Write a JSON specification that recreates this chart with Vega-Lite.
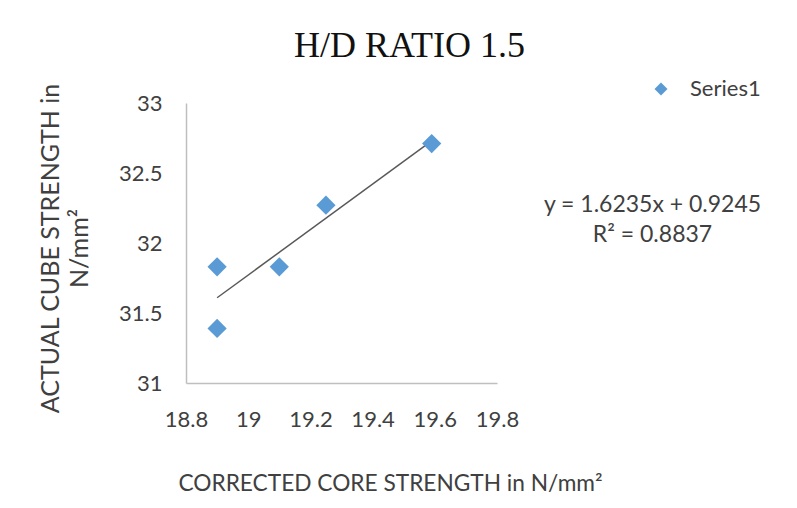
{
  "$schema": "https://vega.github.io/schema/vega-lite/v6.json",
  "width": 311,
  "height": 280,
  "autosize": {"type": "none"},
  "padding": {"left": 186, "top": 103, "right": 300, "bottom": 125},
  "background": "white",
  "config": {
    "view": {"stroke": null},
    "font": "Lato",
    "axis": {
      "grid": false,
      "ticks": false,
      "domainColor": "#bfbfbf",
      "domainWidth": 1.5,
      "labelFont": "Lato",
      "labelFontSize": 22,
      "labelColor": "#404040",
      "labelOverlap": false,
      "labelFlush": false,
      "titleFont": "Lato",
      "titleFontWeight": "normal",
      "titleColor": "#404040"
    }
  },
  "title": {
    "text": "H/D RATIO 1.5",
    "font": "Liberation Serif",
    "fontSize": 36,
    "fontWeight": "normal",
    "color": "#111111",
    "anchor": "middle",
    "frame": "group",
    "dx": 68,
    "dy": 51,
    "baseline": "alphabetic",
    "offset": 36
  },
  "datasets": {
    "points": [
      {"core": 18.9, "cube": 31.83, "series": "Series1"},
      {"core": 18.9, "cube": 31.39, "series": "Series1"},
      {"core": 19.1, "cube": 31.83, "series": "Series1"},
      {"core": 19.25, "cube": 32.27, "series": "Series1"},
      {"core": 19.59, "cube": 32.71, "series": "Series1"}
    ],
    "trend": [
      {"core": 18.9, "cube": 31.609},
      {"core": 19.59, "cube": 32.729}
    ],
    "equation": [
      {"label": "y = 1.6235x + 0.9245\nR² = 0.8837"}
    ]
  },
  "layer": [
    {
      "data": {"name": "trend"},
      "mark": {"type": "line", "color": "#595959", "strokeWidth": 1.5},
      "encoding": {
        "x": {"field": "core", "type": "quantitative"},
        "y": {"field": "cube", "type": "quantitative"}
      }
    },
    {
      "data": {"name": "points"},
      "mark": {"type": "point", "shape": "diamond", "filled": true, "opacity": 1, "size": 370},
      "encoding": {
        "x": {
          "field": "core",
          "type": "quantitative",
          "scale": {"domain": [18.8, 19.8], "zero": false, "nice": false},
          "axis": {
            "values": [18.8, 19, 19.2, 19.4, 19.6, 19.8],
            "format": "~g",
            "labelPadding": 26,
            "title": "CORRECTED CORE STRENGTH in N/mm²",
            "titleFontSize": 22.7,
            "titleX": 204,
            "titleY": 107,
            "titleAlign": "center",
            "titleBaseline": "alphabetic"
          }
        },
        "y": {
          "field": "cube",
          "type": "quantitative",
          "scale": {"domain": [31, 33], "zero": false, "nice": false},
          "axis": {
            "values": [31, 31.5, 32, 32.5, 33],
            "format": "~g",
            "labelPadding": 24,
            "title": ["ACTUAL CUBE STRENGTH in", "N/mm²"],
            "titleFontSize": 25,
            "titleX": -128,
            "titleY": 145,
            "titleAlign": "center",
            "titleBaseline": "alphabetic",
            "titleLineHeight": 29
          }
        },
        "color": {
          "field": "series",
          "type": "nominal",
          "scale": {"range": ["#5B9BD5"]},
          "legend": {
            "title": null,
            "orient": "none",
            "legendX": 464,
            "legendY": -25,
            "symbolType": "diamond",
            "symbolSize": 170,
            "labelFontSize": 22,
            "labelFont": "Lato",
            "labelColor": "#404040",
            "labelOffset": 18
          }
        }
      }
    },
    {
      "data": {"name": "equation"},
      "mark": {"type": "text", "align": "center", "baseline": "middle", "lineBreak": "\n", "lineHeight": 30, "fontSize": 23, "font": "Lato", "color": "#404040", "clip": false},
      "encoding": {
        "x": {"datum": 20.3},
        "y": {"datum": 32.27},
        "text": {"field": "label"}
      }
    }
  ]
}
